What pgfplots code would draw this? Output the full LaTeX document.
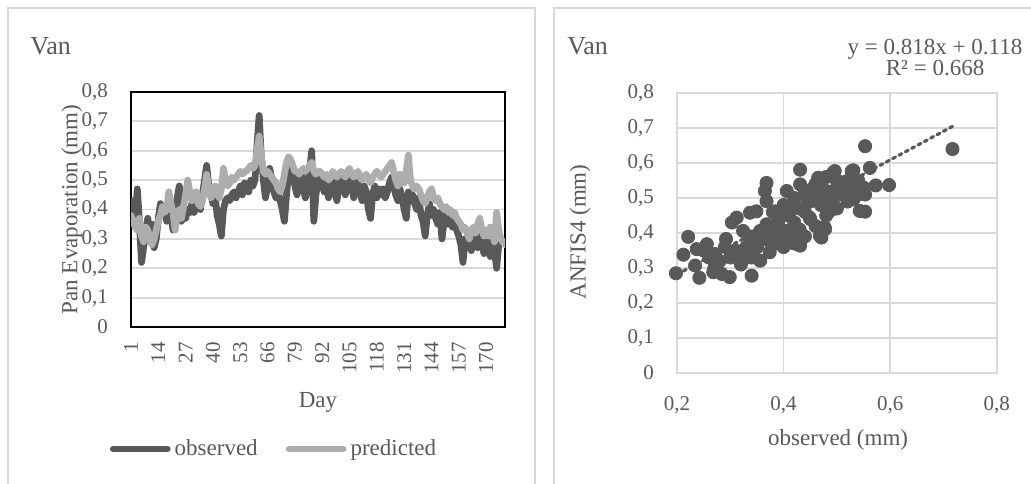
\documentclass[border=0pt]{standalone}
\usepackage{fontspec}
\setmainfont{Liberation Serif}
\usepackage{pgfplots}
\usepackage{pgfplotstable}
\pgfplotsset{compat=1.18}
\definecolor{obs}{HTML}{595959}
\definecolor{pred}{HTML}{ADADAD}
\definecolor{gridc}{HTML}{D9D9D9}
\definecolor{txt}{HTML}{595959}

% daily pan evaporation, observed and ANFIS4 predicted (mm)
\pgfplotstableread{
day obs pred
1 0.40 0.38
2 0.43 0.36
3 0.38 0.34
4 0.47 0.33
5 0.36 0.37
6 0.22 0.31
7 0.27 0.29
8 0.33 0.34
9 0.37 0.33
10 0.31 0.30
11 0.35 0.28
12 0.27 0.30
13 0.30 0.33
14 0.37 0.36
15 0.42 0.38
16 0.38 0.41
17 0.40 0.39
18 0.36 0.40
19 0.41 0.46
20 0.38 0.42
21 0.33 0.39
22 0.37 0.33
23 0.44 0.38
24 0.48 0.40
25 0.36 0.37
26 0.38 0.41
27 0.37 0.45
28 0.40 0.50
29 0.39 0.46
30 0.42 0.43
31 0.39 0.44
32 0.41 0.46
33 0.43 0.42
34 0.40 0.41
35 0.45 0.43
36 0.50 0.47
37 0.55 0.52
38 0.48 0.47
39 0.46 0.44
40 0.42 0.45
41 0.45 0.48
42 0.38 0.46
43 0.35 0.44
44 0.31 0.47
45 0.40 0.54
46 0.43 0.50
47 0.44 0.48
48 0.43 0.49
49 0.45 0.51
50 0.46 0.50
51 0.44 0.51
52 0.46 0.52
53 0.48 0.53
54 0.45 0.52
55 0.49 0.53
56 0.47 0.53
57 0.46 0.54
58 0.50 0.55
59 0.48 0.54
60 0.50 0.55
61 0.62 0.60
62 0.72 0.65
63 0.58 0.58
64 0.50 0.53
65 0.44 0.52
66 0.48 0.53
67 0.54 0.52
68 0.50 0.51
69 0.46 0.50
70 0.44 0.49
71 0.46 0.47
72 0.43 0.46
73 0.40 0.48
74 0.36 0.52
75 0.45 0.56
76 0.53 0.58
77 0.55 0.57
78 0.52 0.55
79 0.48 0.53
80 0.45 0.53
81 0.50 0.52
82 0.53 0.53
83 0.47 0.54
84 0.44 0.53
85 0.48 0.54
86 0.53 0.55
87 0.60 0.56
88 0.36 0.53
89 0.45 0.52
90 0.50 0.53
91 0.52 0.53
92 0.48 0.52
93 0.46 0.51
94 0.50 0.52
95 0.44 0.50
96 0.48 0.51
97 0.51 0.53
98 0.46 0.52
99 0.43 0.51
100 0.49 0.52
101 0.51 0.53
102 0.47 0.52
103 0.45 0.51
104 0.49 0.53
105 0.52 0.54
106 0.48 0.52
107 0.44 0.51
108 0.47 0.52
109 0.50 0.53
110 0.46 0.51
111 0.43 0.50
112 0.48 0.51
113 0.46 0.52
114 0.40 0.50
115 0.37 0.49
116 0.45 0.51
117 0.48 0.52
118 0.44 0.53
119 0.47 0.52
120 0.45 0.51
121 0.47 0.52
122 0.44 0.53
123 0.46 0.54
124 0.49 0.55
125 0.51 0.56
126 0.48 0.53
127 0.45 0.50
128 0.43 0.48
129 0.47 0.52
130 0.44 0.51
131 0.40 0.49
132 0.37 0.53
133 0.46 0.585
134 0.43 0.50
135 0.45 0.48
136 0.42 0.47
137 0.40 0.48
138 0.44 0.47
139 0.38 0.45
140 0.36 0.43
141 0.31 0.42
142 0.38 0.44
143 0.42 0.46
144 0.38 0.47
145 0.40 0.44
146 0.37 0.43
147 0.35 0.44
148 0.39 0.42
149 0.30 0.41
150 0.36 0.40
151 0.38 0.41
152 0.35 0.39
153 0.37 0.40
154 0.34 0.38
155 0.36 0.39
156 0.33 0.37
157 0.31 0.36
158 0.28 0.35
159 0.22 0.33
160 0.30 0.34
161 0.27 0.32
162 0.30 0.30
163 0.26 0.33
164 0.32 0.34
165 0.29 0.32
166 0.27 0.35
167 0.31 0.37
168 0.28 0.33
169 0.25 0.31
170 0.30 0.33
171 0.27 0.31
172 0.24 0.34
173 0.29 0.32
174 0.26 0.29
175 0.20 0.39
176 0.28 0.33
177 0.30 0.30
178 0.29 0.29
179 0.29 0.28
}\evap

% scatter, observed vs ANFIS4 (mm)
\pgfplotstableread{
x y
0.198 0.285
0.221 0.389
0.212 0.338
0.242 0.272
0.234 0.307
0.256 0.368
0.237 0.354
0.271 0.340
0.268 0.288
0.284 0.283
0.299 0.274
0.292 0.383
0.303 0.430
0.312 0.444
0.337 0.458
0.349 0.462
0.340 0.278
0.318 0.340
0.337 0.387
0.331 0.330
0.356 0.321
0.350 0.359
0.374 0.345
0.368 0.543
0.365 0.520
0.368 0.491
0.368 0.425
0.387 0.406
0.406 0.520
0.406 0.472
0.393 0.444
0.403 0.373
0.425 0.406
0.431 0.364
0.431 0.581
0.431 0.539
0.443 0.501
0.449 0.444
0.465 0.558
0.468 0.392
0.477 0.416
0.493 0.572
0.487 0.482
0.499 0.520
0.474 0.510
0.456 0.529
0.419 0.482
0.384 0.462
0.528 0.577
0.531 0.501
0.553 0.648
0.543 0.463
0.324 0.406
0.406 0.406
0.356 0.406
0.717 0.640
0.562 0.586
0.531 0.579
0.496 0.577
0.598 0.537
0.573 0.536
0.553 0.510
0.531 0.496
0.553 0.461
0.493 0.482
0.487 0.463
0.478 0.411
0.471 0.387
0.506 0.530
0.518 0.548
0.38 0.40
0.39 0.43
0.40 0.39
0.41 0.45
0.42 0.43
0.43 0.47
0.44 0.46
0.45 0.49
0.46 0.50
0.47 0.48
0.48 0.52
0.49 0.50
0.50 0.53
0.51 0.51
0.52 0.54
0.53 0.52
0.54 0.55
0.55 0.53
0.44 0.52
0.46 0.54
0.48 0.56
0.50 0.55
0.42 0.50
0.40 0.48
0.38 0.46
0.36 0.40
0.37 0.38
0.35 0.37
0.34 0.39
0.33 0.36
0.31 0.35
0.30 0.33
0.28 0.32
0.27 0.30
0.26 0.33
0.25 0.35
0.29 0.36
0.32 0.31
0.34 0.33
0.47 0.53
0.45 0.44
0.43 0.41
0.41 0.38
0.39 0.37
0.52 0.49
0.54 0.51
0.50 0.47
0.48 0.45
0.46 0.42
0.44 0.39
0.42 0.37
0.40 0.36
}\scat

\pgfplotsset{
  vanstyle/.style={
    scale only axis,
    anchor=south west,
    ymin=0, ymax=0.8,
    ytick={0,0.1,0.2,0.3,0.4,0.5,0.6,0.7,0.8},
    major tick length=0pt,
    tick label style={font=\fontsize{10.5}{12}\selectfont, text=txt},
    label style={font=\fontsize{11.5}{13}\selectfont, text=txt},
    /pgf/number format/.cd, fixed, precision=1, use comma, assume math mode=true,
  },
}

\begin{document}
\begin{tikzpicture}
\useasboundingbox (0,0) rectangle (515.5pt,241.5pt);
% chart frames
\draw[gridc, line width=0.75pt] (4pt,-2pt) -- (4pt,237.5pt) -- (267.5pt,237.5pt) -- (267.5pt,-2pt);
\draw[gridc, line width=0.75pt] (277pt,-2pt) -- (277pt,237.5pt) -- (520pt,237.5pt);

\begin{axis}[
  vanstyle,
  at={(65.5pt,78pt)},
  width=187pt, height=117.5pt,
  xmin=1, xmax=179,
  xtick={1,14,...,170},
  ymajorgrids,
  grid style={gridc, line width=0.9pt},
  axis line style={black, line width=0.9pt},
  xticklabel style={rotate=90, anchor=east},
  xticklabel shift=4pt,
  yticklabel shift=8pt,
  xlabel={Day},
  ylabel={Pan Evaporation (mm)},
  xlabel style={at={(axis description cs:0.5,-0.323)}, anchor=center},
  ylabel style={at={(axis description cs:-0.158,0.5)}, anchor=center},
  legend style={at={(0.385,-0.519)}, anchor=center, draw=none, fill=none,
    legend columns=2, font=\fontsize{11.5}{13}\selectfont, text=txt,
    /tikz/every even column/.append style={column sep=12pt}},
  legend cell align=left,
  legend image code/.code={\draw[#1] (0pt,0pt) -- (27pt,0pt);},
]
\addplot[obs, line width=3.4pt, line join=round, line cap=round] table[x=day, y=obs] {\evap};
\addlegendentry{observed}
\addplot[pred, line width=3.4pt, line join=round, line cap=round] table[x=day, y=pred] {\evap};
\addlegendentry{predicted}
\end{axis}

\begin{axis}[
  vanstyle,
  at={(338.5pt,55pt)},
  width=159.85pt, height=140pt,
  xmin=0.2, xmax=0.8,
  xtick={0.2,0.4,0.6,0.8},
  grid=major,
  grid style={gridc, line width=0.9pt},
  axis line style={gridc, line width=0.9pt},
  clip=false,
  xticklabel shift=8pt,
  yticklabel shift=8pt,
  xlabel={observed (mm)},
  ylabel={ANFIS4 (mm)},
  xlabel style={at={(axis description cs:0.504,-0.239)}, anchor=center},
  ylabel style={at={(axis description cs:-0.303,0.504)}, anchor=center},
]
\addplot[only marks, mark=*, mark size=3.3pt, color=obs, fill=obs] table[x=x, y=y] {\scat};
\addplot[obs, line width=1.6pt, dotted, line cap=round] coordinates {(0.2,0.2816) (0.72,0.7070)};
\end{axis}

% titles and trendline equation
\node[anchor=base west, inner sep=0, text=txt, font=\fontsize{13}{15}\selectfont] at (15pt,214pt) {Van};
\node[anchor=base west, inner sep=0, text=txt, font=\fontsize{13}{15}\selectfont] at (283.5pt,214pt) {Van};
\node[anchor=base, inner sep=0, text=txt, font=\fontsize{11.5}{13}\selectfont] at (467.5pt,214pt) {y = 0.818x + 0.118};
\node[anchor=base, inner sep=0, text=txt, font=\fontsize{11.5}{13}\selectfont] at (467.5pt,204pt) {R² = 0.668};
\end{tikzpicture}
\end{document}
